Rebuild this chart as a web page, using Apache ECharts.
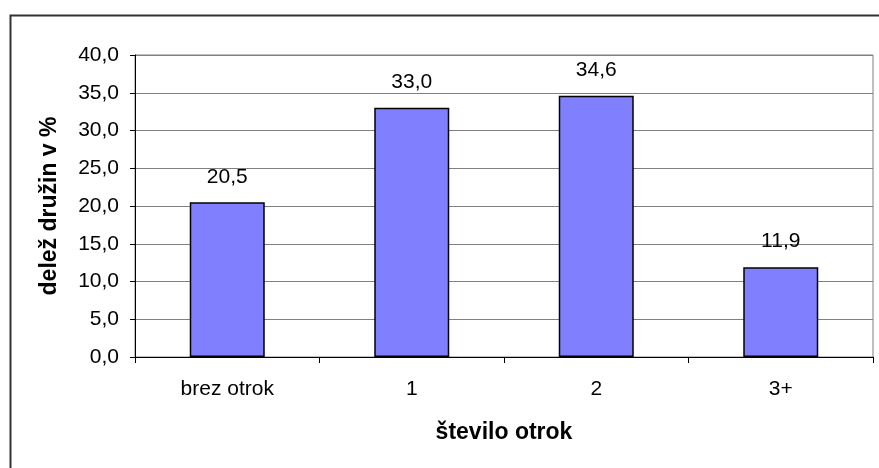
<!DOCTYPE html>
<html>
<head>
<meta charset="utf-8">
<script src="https://cdn.jsdelivr.net/npm/echarts@6/dist/echarts.min.js"></script>
<style>
  html, body { margin: 0; padding: 0; background: #fff; }
  #chart { width: 879px; height: 468px; }
</style>
</head>
<body>
<div id="chart"></div>
<script>
var categories = ['brez otrok', '1', '2', '3+'];
var shares = [20.5, 33.0, 34.6, 11.9];
var yTicks = { min: 0, max: 40, interval: 5 };

function comma(v) {
  return Number(v).toFixed(1).replace('.', ',');
}

var chart = echarts.init(document.getElementById('chart'));
var font = 'Liberation Sans, Arial, sans-serif';

chart.setOption({
  animation: false,
  textStyle: { fontFamily: font },
  // outer frame (right and bottom sides fall outside the picture)
  graphic: [{
    type: 'rect',
    shape: { x: 10.5, y: 15.5, width: 900, height: 500 },
    style: { fill: null, stroke: '#333', lineWidth: 2 },
    silent: true
  }],
  grid: {
    left: 135, right: 6, top: 55, bottom: 111,
    show: true, borderColor: '#808080', borderWidth: 1
  },
  xAxis: {
    type: 'category',
    data: categories,
    name: 'število otrok',
    nameLocation: 'middle',
    nameGap: 64,
    nameTextStyle: { fontWeight: 'bold', fontSize: 23, color: '#000', fontFamily: font },
    axisLine: { lineStyle: { color: '#000', width: 1 } },
    axisTick: { show: true, length: 6, lineStyle: { color: '#000' } },
    axisLabel: { margin: 22, fontSize: 21, color: '#000', fontFamily: font }
  },
  yAxis: {
    type: 'value',
    min: yTicks.min,
    max: yTicks.max,
    interval: yTicks.interval,
    name: 'delež družin v %',
    nameLocation: 'middle',
    nameGap: 74,
    nameRotate: 90,
    nameTextStyle: { fontWeight: 'bold', fontSize: 23, color: '#000', fontFamily: font },
    axisLine: { show: true, lineStyle: { color: '#000', width: 1 } },
    axisTick: { show: true, length: 5, lineStyle: { color: '#000' } },
    axisLabel: { margin: 16, fontSize: 21, color: '#000', fontFamily: font, formatter: comma },
    splitLine: { lineStyle: { color: '#808080', width: 1 } }
  },
  series: [{
    type: 'bar',
    data: shares,
    barWidth: 75,
    itemStyle: { color: '#8080ff', borderColor: '#000', borderWidth: 1.5 },
    label: {
      show: true,
      position: 'top',
      distance: 15,
      fontSize: 21,
      color: '#000',
      fontFamily: font,
      formatter: function (p) { return comma(p.value); }
    }
  }]
});
</script>
</body>
</html>
